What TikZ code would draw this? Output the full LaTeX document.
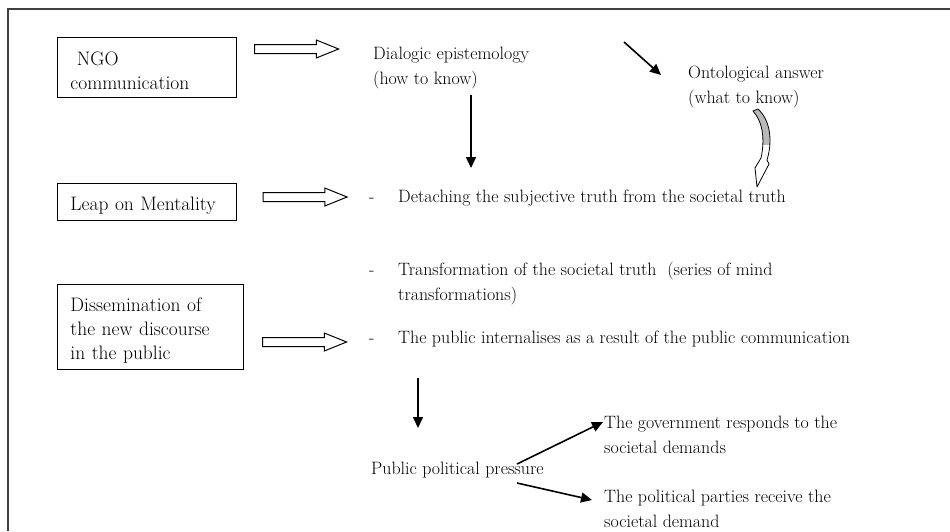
\documentclass[tikz,border=0pt]{standalone}
\usepackage{tikz}
\usetikzlibrary{arrows.meta,shapes.arrows}

\newcommand{\txtfont}{\fontsize{17.9}{24.5}\selectfont}
\newcommand{\boxfont}{\fontsize{19.5}{24}\selectfont}

\tikzset{
  box/.style={draw, line width=0.9pt, rectangle, anchor=north west, align=left, inner xsep=13pt, inner ysep=0pt,
              font=\boxfont, execute at begin node={\rule{0pt}{21pt}}},
  txt/.style={anchor=base west, align=left, inner sep=0pt, font=\txtfont},
  hollow/.style={single arrow, draw, line width=1pt, inner sep=4pt, single arrow head extend=4.5pt,
                 single arrow tip angle=44, minimum height=84pt},
  pointer/.style={-{Triangle[length=11pt,width=10pt]}, line width=1.6pt}
}

\begin{document}
\begin{tikzpicture}[x=1pt,y=-1pt]
            \useasboundingbox (0,0) rectangle (950,531);
            \draw[line width=1.3pt, black!75] (8,531) -- (8,9) -- (950,9);
            % left column
            \node[box, text width=153pt, minimum width=179pt, minimum height=60pt] (ngo) at (57,37) {\ NGO\\communication};
            \node[box, text width=153pt, minimum width=179pt, minimum height=37pt] (leap) at (57,183) {Leap on Mentality};
            \node[box, text width=160pt, minimum width=186pt, minimum height=85pt] (dissem) at (57,284) {Dissemination of\\the new discourse\\in the public};
            % hollow arrows
            \node[hollow] (h1) at (291,49) {};
            \node[hollow] (h2) at (299.5,197) {};
            \node[hollow] (h3) at (299,342) {};
            % texts
            \node[txt] (dial) at (373,84) {Dialogic epistemology\\(how to know)};
            \node[txt] (onto) at (688,103) {Ontological answer\\(what to know)};
            \node[txt] (dash1) at (369,202) {-};
            \node[txt] (detach) at (398,202) {Detaching the subjective truth from the societal truth};
            \node[txt] (dash2) at (369,275) {-};
            \node[txt] (transf) at (398,300) {Transformation of the societal truth \ (series of mind\\transformations)};
            \node[txt] (dash3) at (369,343) {-};
            \node[txt] (intern) at (398,343) {The public internalises as a result of the public communication};
            \node[txt] (press) at (371,474) {Public political pressure};
            \node[txt] (gov) at (604,453) {The government responds to the\\societal demands};
            \node[txt] (party) at (604,527) {The political parties receive the\\societal demand};
            % arrow ends
            \coordinate (a1) at (624,42);
            \coordinate (a2) at (661,75);
            \coordinate (b1) at (471,95);
            \coordinate (b2) at (471,168);
            \coordinate (c1) at (418,378);
            \coordinate (c2) at (418,428);
            \coordinate (p1) at (517,464);
            \coordinate (p2) at (603,422);
            \coordinate (q1) at (517,483);
            \coordinate (q2) at (592,500);
            \draw[pointer] (a1) -- (a2);
            \draw[pointer] (b1) -- (b2);
            \draw[pointer] (c1) -- (c2);
            \draw[pointer] (p1) -- (p2);
            \draw[pointer] (q1) -- (q2);
            % curved arrow
            \draw[fill=white, line width=0.8pt, line join=round,
                  path picture={\fill[gray!55] (path picture bounding box.north west) rectangle ++(30,36);}]
                (753,111) -- (758,109) .. controls (770,120) and (773,140) .. (767,160)
                -- (769,164) -- (757,187) -- (755,168) -- (761,158)
                .. controls (765,140) and (763,122) .. cycle;
        \end{tikzpicture}
\end{document}
